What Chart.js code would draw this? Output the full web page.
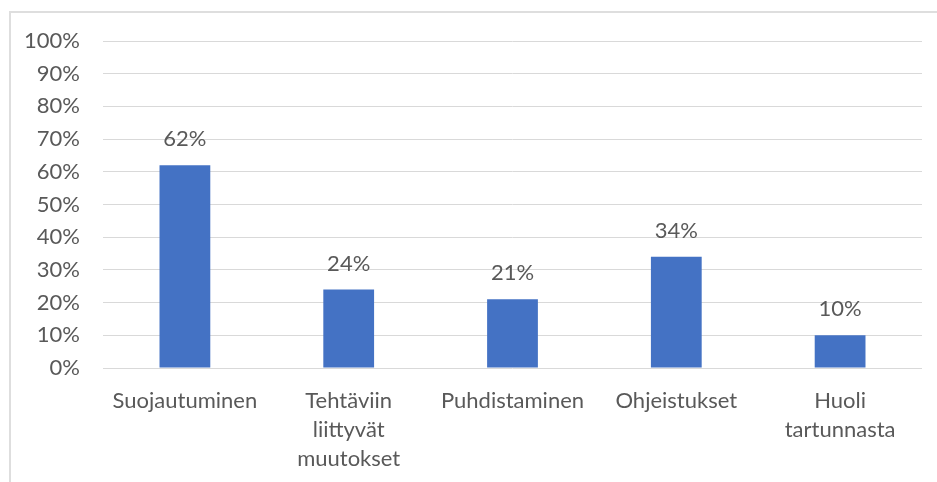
<!DOCTYPE html>
<html>
<head>
<meta charset="utf-8">
<script src="https://cdn.jsdelivr.net/npm/chart.js@4/dist/chart.umd.min.js"></script>
<style>
  html, body { margin: 0; padding: 0; background: #fff; overflow: hidden; }
  #frame {
    position: absolute; left: 9px; top: 11px; width: 1000px; height: 1000px;
    border-left: 2px solid #dedede; border-top: 2px solid #dedede;
  }
  #wrap { position: absolute; left: 0; top: 0; width: 937px; height: 482px; }
</style>
</head>
<body>
<div id="frame"></div>
<div id="wrap"><canvas id="chart"></canvas></div>
<script>
const categories = [
  "Suojautuminen",
  ["Tehtäviin", "liittyvät", "muutokset"],
  "Puhdistaminen",
  "Ohjeistukset",
  ["Huoli", "tartunnasta"]
];
const shares = [62, 24, 21, 34, 10];

const fontFamily = "Lato, 'Liberation Sans', sans-serif";
const textColor = "#595959";

// draws the value above each bar, like Excel's data labels
const barValueLabels = {
  id: "barValueLabels",
  afterDatasetsDraw(chart) {
    const ctx = chart.ctx;
    const meta = chart.getDatasetMeta(0);
    ctx.save();
    ctx.font = "22px " + fontFamily;
    ctx.fillStyle = textColor;
    ctx.textAlign = "center";
    ctx.textBaseline = "alphabetic";
    meta.data.forEach((bar, i) => {
      ctx.fillText(shares[i] + "%", bar.x, bar.y - 19);
    });
    ctx.restore();
  }
};

const ctx = document.getElementById("chart").getContext("2d");

new Chart(ctx, {
  type: "bar",
  plugins: [barValueLabels],
  data: {
    labels: categories,
    datasets: [
      {
        data: shares,
        backgroundColor: "#4472c4",
        categoryPercentage: 1,
        barPercentage: 0.31,
      },
    ],
  },
  options: {
    responsive: true,
    maintainAspectRatio: false,
    animation: false,
    layout: {
      padding: { left: 0, top: 41, right: 15, bottom: 0 },
    },
    scales: {
      y: {
        min: 0,
        max: 100,
        afterFit: (scale) => { scale.width = 103; },
        border: { display: false },
        grid: { color: "#d9d9d9", lineWidth: 1, drawTicks: false },
        ticks: {
          stepSize: 10,
          padding: 23,
          color: textColor,
          font: { family: fontFamily, size: 22 },
          callback: (v) => v + "%",
        },
      },
      x: {
        afterFit: (scale) => { scale.height = 114; },
        border: { display: false },
        grid: { display: false, drawTicks: false },
        ticks: {
          padding: 19,
          autoSkip: false,
          maxRotation: 0,
          color: textColor,
          font: { family: fontFamily, size: 22, lineHeight: 1.3 },
        },
      },
    },
    plugins: {
      legend: { display: false },
      tooltip: { enabled: false },
    },
  },
});
</script>
</body>
</html>
